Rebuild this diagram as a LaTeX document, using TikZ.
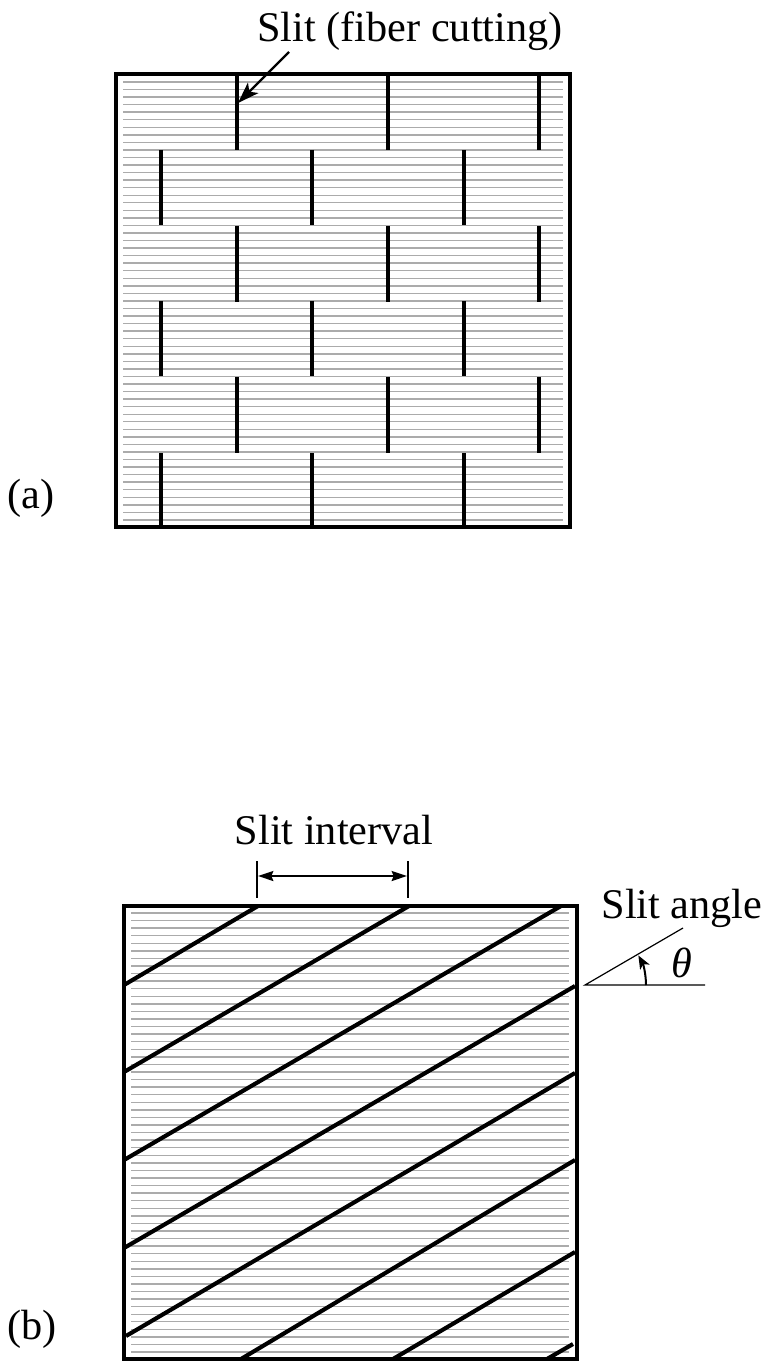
\documentclass[tikz,border=0pt]{standalone}
\usepackage{fontspec}
\setmainfont{Liberation Serif}
\usetikzlibrary{arrows.meta}
\tikzset{
  frame/.style={line width=3.4pt, black},
  hatch/.style={line width=1.05pt, black!33},
  slit/.style={line width=3.1pt, black},
  thinline/.style={line width=0.9pt, black},
  label/.style={anchor=base, inner sep=0pt, font=\fontsize{31.7}{36}\selectfont},
}
\begin{document}
\begin{tikzpicture}[x=0.75pt,y=-0.75pt]
        \useasboundingbox (0,0) rectangle (769,1362);

        % Fibers of panel (a)
        \foreach \i in {0,...,58} {
            \draw[hatch] (123,82+\i*7.55) -- (563,82+\i*7.55);
        }

        % Slits of panel (a)
        \foreach \y in {74,226,377} {
            \foreach \x in {237,388,539} {
                \draw[slit] (\x,\y) -- (\x,\y+76);
            }
        }
        \foreach \y in {150,301,453} {
            \foreach \x in {161,312,464} {
                \draw[slit] (\x,\y) -- (\x,\y+75);
            }
        }

        % Frame of panel (a)
        \draw[frame] (116,74) rectangle (570,527);

        % Labels of panel (a)
        \node[label] (slitlabel) at (410,42) {Slit (fiber cutting)};
        \node[label] (alabel) at (31,508) {(a)};
        \coordinate (slittail) at (289,52);
        \coordinate (slittip) at (238,103);
        \draw[-{Stealth[length=16pt,width=11pt,inset=4pt]}, line width=1.8pt] (slittail) -- (slittip);

        % Fibers of panel (b)
        \foreach \i in {0,...,58} {
            \draw[hatch] (131,913+\i*7.57) -- (569,913+\i*7.57);
        }

        % Slits of panel (b)
        \foreach \xa/\ya/\xb/\yb in {258/906/124/985, 409/906/124/1072, 561/906/124/1160,
            575/986/124/1248, 575/1073/126/1336, 575/1160/241/1359, 575/1252/393/1359, 573/1344/547/1359} {
            \draw[slit] (\xa,\ya) -- (\xb,\yb);
        }

        % Frame of panel (b)
        \draw[frame] (124,906) rectangle (577,1359);

        % Labels of panel (b)
        \node[label] (intervallabel) at (334,844) {Slit interval};
        \node[label] (anglelabel) at (682,918) {Slit angle};
        \node[label] (blabel) at (32,1339) {(b)};

        % Slit interval
        \coordinate (tickl) at (257,861);
        \coordinate (tickr) at (408,861);
        \draw[thinline] (tickl) -- (257,898);
        \draw[thinline] (tickr) -- (408,898);
        \draw[{Stealth[length=11.5pt,width=7.5pt,inset=1.5pt]}-{Stealth[length=11.5pt,width=7.5pt,inset=1.5pt]}, line width=1.5pt] (258,876) -- (407,876);

        % Slit angle
        \coordinate (apex) at (585,985);
        \coordinate (hor) at (705,985);
        \coordinate (incl) at (683,928);
        \draw[thinline] (hor) -- (apex) -- (incl);
        \draw[-{Stealth[length=10pt,width=8pt,inset=2.5pt]}, line width=1.5pt] (646,985) arc[start angle=0, end angle=-29, radius=61];
        \node[label] (thetalabel) at (682,977) {\itshape θ};
\end{tikzpicture}
\end{document}
